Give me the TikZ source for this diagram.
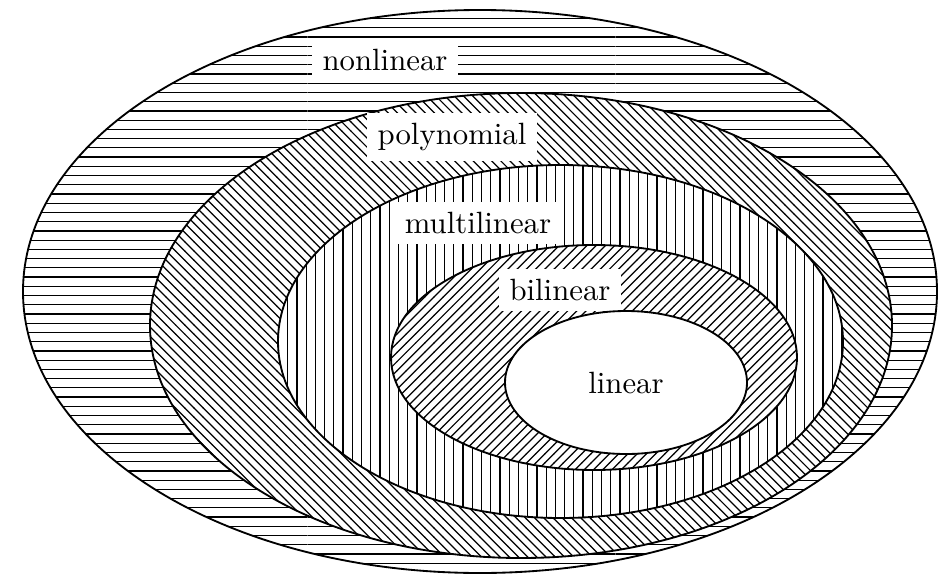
\documentclass[tikz,border=0pt]{standalone}
\usetikzlibrary{patterns}
\begin{document}
\begin{tikzpicture}[x=0.325pt,y=-0.325pt,
  region/.style={draw=black, semithick, preaction={fill=white}},
  lbl/.style={fill=white, inner sep=3.3pt}]
\useasboundingbox (0,0) rectangle (950,574);
\path[region, pattern=horizontal lines] (480,291.5) ellipse [x radius=457, y radius=281.5];
\node[lbl] (nl) at (385,60) {nonlinear};
\path[region, pattern=north west lines] (521,325.5) ellipse [x radius=371, y radius=232.5];
\node[lbl] (pl) at (452,137) {polynomial};
\path[region, pattern=vertical lines] (560.5,341.5) ellipse [x radius=282.5, y radius=176.5];
\node[lbl] (ml) at (478,223) {multilinear};
\path[region, pattern=north east lines] (594,357.5) ellipse [x radius=203, y radius=112.5];
\node[lbl] (bl) at (560,290) {bilinear};
\path[region] (626,382.5) ellipse [x radius=121, y radius=71.5];
\node (li) at (626,383) {linear};
\end{tikzpicture}
\end{document}
